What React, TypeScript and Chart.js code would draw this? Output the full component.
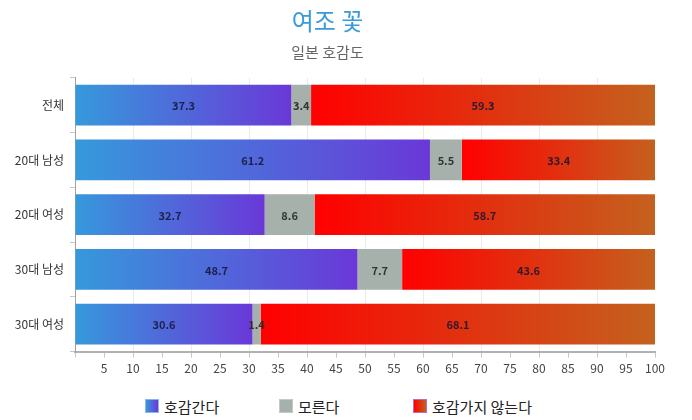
import React, { useEffect, useRef } from "react";
import { Chart, registerables } from "chart.js";

Chart.register(...registerables);

const titleText = "여조 꽃";
const subtitleText = "일본 호감도";
const categories = ["전체", "20대 남성", "20대 여성", "30대 남성", "30대 여성"];
const seriesNames = ["호감간다", "모른다", "호감가지 않는다"];
const likeValues = [37.3, 61.2, 32.7, 48.7, 30.6];
const unknownValues = [3.4, 5.5, 8.6, 7.7, 1.4];
const dislikeValues = [59.3, 33.4, 58.7, 43.6, 68.1];

const FONT = "'Noto Sans CJK KR', 'Noto Sans', sans-serif";

const gradFill = (from: string, to: string, startOf: (i: number) => number, endOf: (i: number) => number, fallback: string) =>
  (ctx: any) => {
    const chart = ctx.chart;
    if (!chart.chartArea || ctx.type !== "data") return fallback;
    const xs = chart.scales.x;
    const i = ctx.dataIndex;
    const s = xs.getPixelForValue(startOf(i));
    const e = xs.getPixelForValue(endOf(i));
    if (!isFinite(s) || !isFinite(e) || s === e) return fallback;
    const g = chart.ctx.createLinearGradient(s, 0, e, 0);
    g.addColorStop(0, from);
    g.addColorStop(1, to);
    return g;
  };

const labelPlugin = {
  id: "segLabels",
  afterDatasetsDraw(chart: any) {
    const c = chart.ctx;
    c.save();
    c.textAlign = "center";
    c.textBaseline = "middle";
    chart.data.datasets.forEach((ds: any, di: number) => {
      const meta = chart.getDatasetMeta(di);
      meta.data.forEach((el: any, i: number) => {
        const p = el.getProps(["x", "y", "base"], true);
        c.font = `bold 11px ${FONT}`;
        c.fillStyle = di === 1 ? "rgba(40,40,40,0.9)" : "rgba(20,20,50,0.85)";
        c.fillText(String(ds.data[i]), (p.x + p.base) / 2, p.y + 1);
      });
    });
    c.restore();
  },
};

export default function App() {
  const ref = useRef<HTMLCanvasElement | null>(null);
  useEffect(() => {
    document.body.style.margin = "0";
    const chart = new Chart(ref.current as HTMLCanvasElement, {
      type: "bar",
      data: {
        labels: categories,
        datasets: [
          {
            label: seriesNames[0],
            data: likeValues,
            backgroundColor: gradFill("#3699dc", "#6a38d8", () => 0, (i) => likeValues[i], "#4f6fdb"),
            barPercentage: 0.745,
            categoryPercentage: 1,
          },
          {
            label: seriesNames[1],
            data: unknownValues,
            backgroundColor: "#a6b1ab",
            barPercentage: 0.745,
            categoryPercentage: 1,
          },
          {
            label: seriesNames[2],
            data: dislikeValues,
            backgroundColor: gradFill(
              "#ff0000",
              "#c4611e",
              (i) => likeValues[i] + unknownValues[i],
              (i) => likeValues[i] + unknownValues[i] + dislikeValues[i],
              "#e03010"
            ),
            barPercentage: 0.745,
            categoryPercentage: 1,
          },
        ],
      },
      options: {
        indexAxis: "y",
        responsive: false,
        animation: false,
        devicePixelRatio: 1,
        layout: { padding: { left: 0, right: 37, top: 0, bottom: 0 } },
        plugins: {
          legend: { display: false },
          tooltip: { enabled: false },
          title: {
            display: true,
            text: titleText,
            color: "#3a9ad9",
            font: { family: FONT, size: 24, weight: "normal" },
            padding: { top: 6, bottom: 5 },
          },
          subtitle: {
            display: true,
            text: subtitleText,
            color: "#666666",
            font: { family: FONT, size: 15, weight: "normal" },
            padding: { top: 3, bottom: 17 },
          },
        },
        scales: {
          x: {
            stacked: true,
            min: 0,
            max: 100,
            ticks: {
              stepSize: 5,
              autoSkip: false,
              maxRotation: 0,
              color: "#444",
              font: { family: FONT, size: 12 },
              padding: 4,
              callback: (v: any) => (v === 0 ? "" : String(v)),
            },
            grid: {
              color: (ctx: any) =>
                ctx.tick && ctx.tick.value % 10 === 0 && ctx.tick.value > 0 && ctx.tick.value < 100
                  ? "#ebebeb"
                  : "rgba(0,0,0,0)",
              tickColor: "#c8c8c8",
              tickLength: 6,
              lineWidth: 1,
            },
            border: { color: "#b0b0b0", width: 2 },
          },
          y: {
            stacked: true,
            ticks: {
              color: "#333",
              font: { family: FONT, size: 12 },
              padding: 6,
            },
            grid: {
              offset: true,
              drawOnChartArea: false,
              tickColor: "#c8c8c8",
              tickLength: 5,
            },
            border: { color: "#a0a0a0", width: 1 },
            afterFit: (s: any) => {
              s.width = 75;
            },
          },
        },
      },
      plugins: [labelPlugin],
    } as any);
    return () => chart.destroy();
  }, []);

  const legendItems = [
    { name: seriesNames[0], bg: "linear-gradient(to right, #3699dc, #6a38d8)", border: "#8fb6e8" },
    { name: seriesNames[1], bg: "#a6b1ab", border: "#c3cac6" },
    { name: seriesNames[2], bg: "linear-gradient(to right, #ff0000, #c4611e)", border: "#b070d0" },
  ];

  return (
    <div style={{ position: "relative", width: 692, height: 420, fontFamily: FONT }}>
      <canvas ref={ref} width={692} height={380} style={{ display: "block" }} />
      <div
        style={{
          position: "absolute",
          top: 395,
          left: 0,
          width: 692,
          height: 22,
          display: "flex",
          justifyContent: "center",
        }}
      >
        {legendItems.map((it) => (
          <div key={it.name} style={{ width: 134, display: "flex", alignItems: "center", height: 22 }}>
            <span
              style={{
                display: "inline-block",
                width: 14,
                height: 14,
                background: it.bg,
                border: `1px solid ${it.border}`,
                boxSizing: "border-box",
                marginRight: 5,
              }}
            />
            <span style={{ fontSize: 15, color: "#222", whiteSpace: "nowrap" }}>{it.name}</span>
          </div>
        ))}
      </div>
    </div>
  );
}
